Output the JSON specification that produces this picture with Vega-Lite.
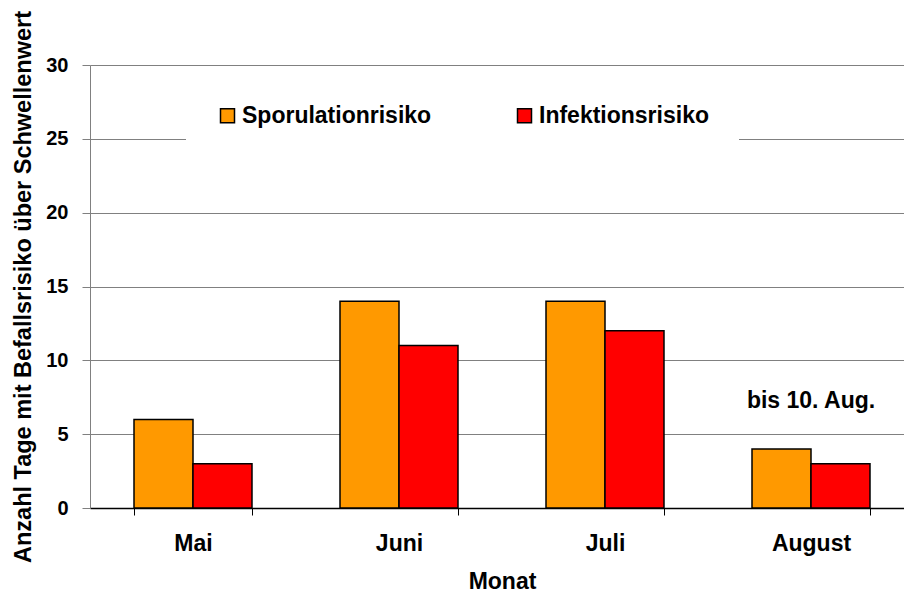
{
  "$schema": "https://vega.github.io/schema/vega-lite/v6.json",
  "width": 814,
  "height": 443,
  "autosize": {"type": "none"},
  "padding": {"left": 90, "top": 65, "right": 0, "bottom": 84},
  "background": "white",
  "config": {"view": {"stroke": null}, "font": "Liberation Sans"},
  "data": {
    "values": [
      {"Monat": "Mai", "Serie": "Sporulationrisiko", "Tage": 6},
      {"Monat": "Mai", "Serie": "Infektionsrisiko", "Tage": 3},
      {"Monat": "Juni", "Serie": "Sporulationrisiko", "Tage": 14},
      {"Monat": "Juni", "Serie": "Infektionsrisiko", "Tage": 11},
      {"Monat": "Juli", "Serie": "Sporulationrisiko", "Tage": 14},
      {"Monat": "Juli", "Serie": "Infektionsrisiko", "Tage": 12},
      {"Monat": "August", "Serie": "Sporulationrisiko", "Tage": 4},
      {"Monat": "August", "Serie": "Infektionsrisiko", "Tage": 3}
    ]
  },
  "layer": [
    {
      "mark": {"type": "bar", "stroke": "black", "strokeWidth": 1.5},
      "encoding": {
        "x": {
          "field": "Monat",
          "type": "nominal",
          "sort": ["Mai", "Juni", "Juli", "August"],
          "scale": {"range": [0, 824], "paddingInner": 0.4272, "paddingOuter": 0.2136},
          "axis": {
            "title": "Monat",
            "titleFontSize": 23,
            "titleFontWeight": "bold",
            "titlePadding": 15,
            "titleColor": "black",
            "labelFontSize": 23,
            "labelFontWeight": "bold",
            "labelColor": "black",
            "labelAngle": 0,
            "labelPadding": 17,
            "tickSize": 7,
            "tickBand": "extent",
            "tickColor": "black",
            "domainColor": "black",
            "domainWidth": 1.5,
            "grid": false
          }
        },
        "xOffset": {
          "field": "Serie",
          "type": "nominal",
          "sort": ["Sporulationrisiko", "Infektionsrisiko"],
          "scale": {"paddingInner": 0, "paddingOuter": 0}
        },
        "y": {
          "field": "Tage",
          "type": "quantitative",
          "scale": {"domain": [0, 30], "nice": false},
          "axis": {
            "title": "Anzahl Tage mit Befallsrisiko über Schwellenwert",
            "titleFontSize": 23.5,
            "titleFontWeight": "bold",
            "titleColor": "black",
            "titlePadding": 10,
            "values": [0, 5, 10, 15, 20, 25, 30],
            "labelFontSize": 20,
            "labelFontWeight": "bold",
            "labelColor": "black",
            "labelPadding": 14,
            "tickSize": 8,
            "tickColor": "#808080",
            "domainColor": "#808080",
            "grid": true,
            "gridColor": "#808080",
            "gridOpacity": 1
          }
        },
        "color": {
          "field": "Serie",
          "type": "nominal",
          "scale": {"domain": ["Sporulationrisiko", "Infektionsrisiko"], "range": ["#FF9900", "#FF0000"]},
          "legend": {
            "orient": "none",
            "direction": "horizontal",
            "legendX": 96,
            "legendY": 9,
            "title": null,
            "symbolType": "square",
            "symbolSize": 196,
            "symbolStrokeColor": "black",
            "symbolStrokeWidth": 1.5,
            "symbolOpacity": 1,
            "labelFontSize": 23,
            "labelFontWeight": "bold",
            "labelColor": "black",
            "labelOffset": 3,
            "labelLimit": 300,
            "columnPadding": 81,
            "padding": 30,
            "fillColor": "white",
            "strokeColor": null
          }
        }
      }
    },
    {
      "data": {"values": [{"Monat": "August", "Tage": 6.75, "Notiz": "bis 10. Aug."}]},
      "mark": {"type": "text", "fontSize": 23, "fontWeight": "bold", "baseline": "alphabetic", "align": "center", "color": "black"},
      "encoding": {
        "x": {"field": "Monat", "type": "nominal", "sort": ["Mai", "Juni", "Juli", "August"]},
        "y": {"field": "Tage", "type": "quantitative"},
        "text": {"field": "Notiz"}
      }
    }
  ]
}
